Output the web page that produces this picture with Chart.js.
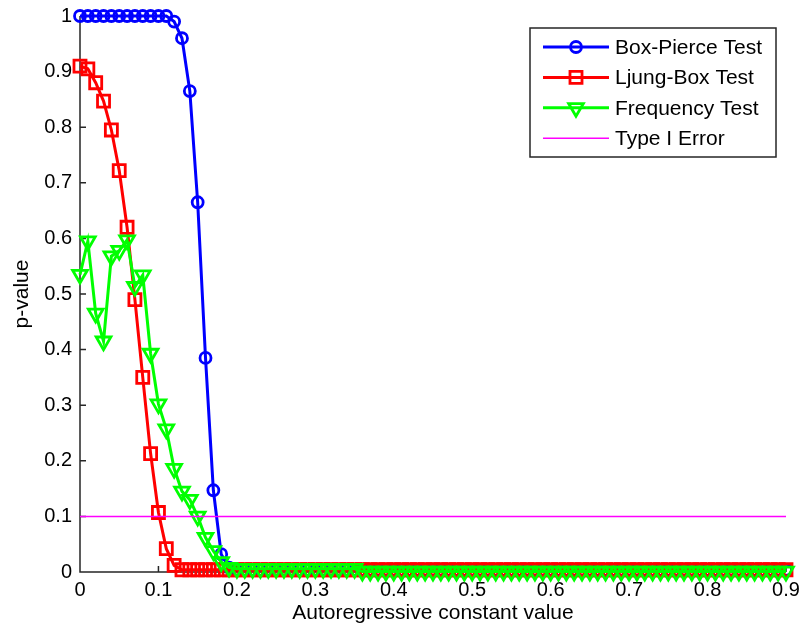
<!DOCTYPE html>
<html lang="en">
<head>
<meta charset="UTF-8">
<title>p-value vs autoregressive constant</title>
<script src="https://cdn.jsdelivr.net/npm/chart.js"></script>
<style>
  html, body { margin: 0; padding: 0; background: #fff; }
  canvas { display: block; }
</style>
</head>
<body>
<canvas id="chart" width="799" height="632"></canvas>
<script>
// autoregressive constant (x) values
const xValues = [
  0.00, 0.01, 0.02, 0.03, 0.04, 0.05, 0.06, 0.07, 0.08, 0.09,
  0.10, 0.11, 0.12, 0.13, 0.14, 0.15, 0.16, 0.17, 0.18, 0.19,
  0.20, 0.21, 0.22, 0.23, 0.24, 0.25, 0.26, 0.27, 0.28, 0.29,
  0.30, 0.31, 0.32, 0.33, 0.34, 0.35, 0.36, 0.37, 0.38, 0.39,
  0.40, 0.41, 0.42, 0.43, 0.44, 0.45, 0.46, 0.47, 0.48, 0.49,
  0.50, 0.51, 0.52, 0.53, 0.54, 0.55, 0.56, 0.57, 0.58, 0.59,
  0.60, 0.61, 0.62, 0.63, 0.64, 0.65, 0.66, 0.67, 0.68, 0.69,
  0.70, 0.71, 0.72, 0.73, 0.74, 0.75, 0.76, 0.77, 0.78, 0.79,
  0.80, 0.81, 0.82, 0.83, 0.84, 0.85, 0.86, 0.87, 0.88, 0.89,
  0.90
];

const boxPierce = [
  1, 1, 1, 1, 1, 1, 1, 1, 1, 1,
  1, 1, 0.99, 0.96, 0.865, 0.665, 0.385, 0.147, 0.032, 0.008,
  0.004, 0.004, 0.004, 0.004, 0.004, 0.004, 0.004, 0.004, 0.004, 0.004,
  0.004, 0.004, 0.004, 0.004, 0.004, 0.004, 0.004, 0.004, 0.004, 0.004,
  0.004, 0.004, 0.004, 0.004, 0.004, 0.004, 0.004, 0.004, 0.004, 0.004,
  0.004, 0.004, 0.004, 0.004, 0.004, 0.004, 0.004, 0.004, 0.004, 0.004,
  0.004, 0.004, 0.004, 0.004, 0.004, 0.004, 0.004, 0.004, 0.004, 0.004,
  0.004, 0.004, 0.004, 0.004, 0.004, 0.004, 0.004, 0.004, 0.004, 0.004,
  0.004, 0.004, 0.004, 0.004, 0.004, 0.004, 0.004, 0.004, 0.004, 0.004,
  0.004
];

const ljungBox = [
  0.91, 0.905, 0.88, 0.847, 0.795, 0.722, 0.62, 0.49, 0.35, 0.213,
  0.107, 0.042, 0.012, 0.004, 0.004, 0.004, 0.004, 0.004, 0.004, 0.004,
  0.004, 0.004, 0.004, 0.004, 0.004, 0.004, 0.004, 0.004, 0.004, 0.004,
  0.004, 0.004, 0.004, 0.004, 0.004, 0.004, 0.004, 0.004, 0.004, 0.004,
  0.004, 0.004, 0.004, 0.004, 0.004, 0.004, 0.004, 0.004, 0.004, 0.004,
  0.004, 0.004, 0.004, 0.004, 0.004, 0.004, 0.004, 0.004, 0.004, 0.004,
  0.004, 0.004, 0.004, 0.004, 0.004, 0.004, 0.004, 0.004, 0.004, 0.004,
  0.004, 0.004, 0.004, 0.004, 0.004, 0.004, 0.004, 0.004, 0.004, 0.004,
  0.004, 0.004, 0.004, 0.004, 0.004, 0.004, 0.004, 0.004, 0.004, 0.004,
  0.004
];

const frequencyTest = [
  0.535, 0.595, 0.465, 0.415, 0.568, 0.578, 0.597, 0.513, 0.534, 0.393,
  0.302, 0.257, 0.186, 0.145, 0.13, 0.1, 0.062, 0.038, 0.018, 0.008,
  0.006, 0.006, 0.006, 0.006, 0.006, 0.006, 0.006, 0.006, 0.006, 0.006,
  0.006, 0.006, 0.006, 0.006, 0.006, 0.006, 0.001, 0.001, 0.001, 0.001,
  0.001, 0.001, 0.001, 0.001, 0.001, 0.001, 0.001, 0.001, 0.001, 0.001,
  0.001, 0.001, 0.001, 0.001, 0.001, 0.001, 0.001, 0.001, 0.001, 0.001,
  0.001, 0.001, 0.001, 0.001, 0.001, 0.001, 0.001, 0.001, 0.001, 0.001,
  0.001, 0.001, 0.001, 0.001, 0.001, 0.001, 0.001, 0.001, 0.001, 0.001,
  0.001, 0.001, 0.001, 0.001, 0.001, 0.001, 0.001, 0.001, 0.001, 0.001,
  0.001
];

// Type I error level, drawn across the whole x range
const typeIError = 0.1;
const typeIRange = [0, 0.9];

const FONT = "'Liberation Sans', Arial, sans-serif";
const AXIS_COLOR = '#262626';

function toPoints(ys) {
  return xValues.map((x, i) => ({ x: x, y: ys[i] }));
}

// axis lines with MATLAB-style inward ticks
const inwardAxes = {
  id: 'inwardAxes',
  beforeDatasetsDraw(chart) {
    const { ctx, chartArea: a, scales: { x, y } } = chart;
    ctx.save();
    ctx.strokeStyle = AXIS_COLOR;
    ctx.lineWidth = 1.5;
    ctx.beginPath();
    ctx.moveTo(a.left, a.top);
    ctx.lineTo(a.left, a.bottom);
    ctx.lineTo(a.right, a.bottom);
    x.ticks.forEach(t => {
      const px = x.getPixelForValue(t.value);
      ctx.moveTo(px, a.bottom);
      ctx.lineTo(px, a.bottom - 6);
    });
    y.ticks.forEach(t => {
      const py = y.getPixelForValue(t.value);
      ctx.moveTo(a.left, py);
      ctx.lineTo(a.left + 6, py);
    });
    ctx.stroke();
    ctx.restore();
  }
};

// boxed legend with line + marker samples, inside the plot at top right
const boxLegend = {
  id: 'boxLegend',
  afterDraw(chart) {
    const { ctx, chartArea: a } = chart;
    const w = 246, h = 129;
    const left = a.right - 10 - w;
    const top = a.top + 12;
    ctx.save();
    ctx.fillStyle = '#fff';
    ctx.fillRect(left, top, w, h);
    ctx.strokeStyle = AXIS_COLOR;
    ctx.lineWidth = 1.5;
    ctx.strokeRect(left, top, w, h);
    chart.data.datasets.forEach((ds, i) => {
      const yy = top + 19 + i * 30.4;
      ctx.strokeStyle = ds.borderColor;
      ctx.lineWidth = ds.borderWidth;
      ctx.beginPath();
      ctx.moveTo(left + 13, yy);
      ctx.lineTo(left + 79, yy);
      ctx.stroke();
      if (ds.pointRadius > 0) {
        ctx.fillStyle = 'rgba(0,0,0,0)';
        ctx.lineWidth = ds.pointBorderWidth;
        Chart.helpers.drawPoint(ctx, {
          pointStyle: ds.pointStyle,
          rotation: ds.pointRotation || 0,
          radius: ds.pointRadius,
          borderWidth: ds.pointBorderWidth
        }, left + 46, yy);
      }
      ctx.fillStyle = '#000';
      ctx.font = '21px ' + FONT;
      ctx.textBaseline = 'middle';
      ctx.textAlign = 'left';
      ctx.fillText(ds.label, left + 85, yy + 1);
    });
    ctx.restore();
  }
};

const ctx = document.getElementById('chart').getContext('2d');
new Chart(ctx, {
  type: 'line',
  data: {
    datasets: [
      {
        label: 'Box-Pierce Test',
        data: toPoints(boxPierce),
        borderColor: '#0000ff',
        borderWidth: 3,
        pointStyle: 'circle',
        pointRadius: 5.5,
        pointBorderWidth: 2.8,
        pointBackgroundColor: 'rgba(0,0,0,0)',
        pointBorderColor: '#0000ff',
        order: 3,
        clip: false
      },
      {
        label: 'Ljung-Box Test',
        data: toPoints(ljungBox),
        borderColor: '#ff0000',
        borderWidth: 3,
        pointStyle: 'rect',
        pointRadius: 8.5,
        pointBorderWidth: 2.8,
        pointBackgroundColor: 'rgba(0,0,0,0)',
        pointBorderColor: '#ff0000',
        order: 2,
        clip: false
      },
      {
        label: 'Frequency Test',
        data: toPoints(frequencyTest),
        borderColor: '#00ff00',
        borderWidth: 3,
        pointStyle: 'triangle',
        pointRotation: 180,
        pointRadius: 8.5,
        pointBorderWidth: 2.8,
        pointBackgroundColor: 'rgba(0,0,0,0)',
        pointBorderColor: '#00ff00',
        order: 1,
        clip: false
      },
      {
        label: 'Type I Error',
        data: typeIRange.map(x => ({ x: x, y: typeIError })),
        borderColor: '#ff00ff',
        borderWidth: 1.5,
        pointRadius: 0,
        order: 0,
        clip: false
      }
    ]
  },
  options: {
    responsive: false,
    devicePixelRatio: 1,
    animation: false,
    layout: { padding: { top: 16, right: 13, left: 0, bottom: 0 } },
    plugins: {
      legend: { display: false },
      tooltip: { enabled: false }
    },
    scales: {
      x: {
        type: 'linear',
        min: 0,
        max: 0.9,
        grid: { display: false, drawTicks: false },
        border: { display: false },
        ticks: {
          stepSize: 0.1,
          padding: 6,
          color: '#000',
          font: { family: FONT, size: 20 },
          callback: v => String(+v.toFixed(1))
        },
        title: {
          display: true,
          text: 'Autoregressive constant value',
          color: '#000',
          font: { family: FONT, size: 21 },
          padding: { top: 0, bottom: 6 }
        },
        afterFit: s => {
          s.height = 60;
          s.paddingLeft = 0;
          s.paddingRight = 0;
        }
      },
      y: {
        min: 0,
        max: 1,
        grid: { display: false, drawTicks: false },
        border: { display: false },
        ticks: {
          stepSize: 0.1,
          padding: 8,
          color: '#000',
          font: { family: FONT, size: 20 },
          callback: v => String(+v.toFixed(1))
        },
        title: {
          display: true,
          text: 'p-value',
          color: '#000',
          font: { family: FONT, size: 21 },
          padding: { top: 10, bottom: 0 }
        },
        afterFit: s => {
          s.width = 80;
          s.paddingTop = 0;
          s.paddingBottom = 0;
        }
      }
    }
  },
  plugins: [inwardAxes, boxLegend]
});
</script>
</body>
</html>
